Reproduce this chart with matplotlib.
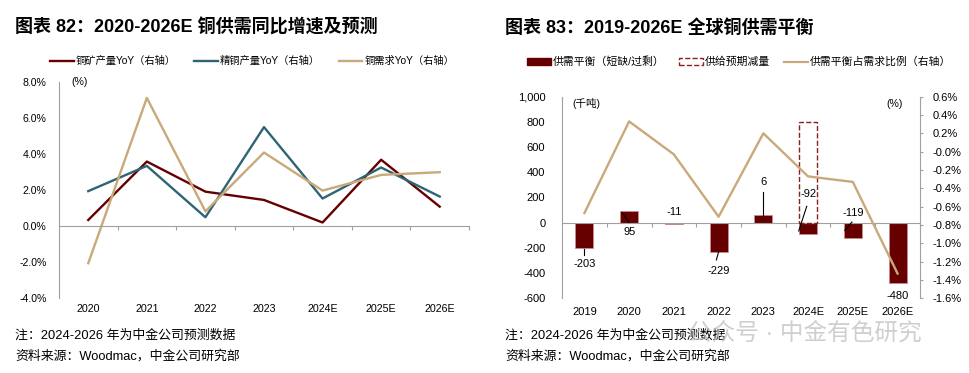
import numpy as np
import matplotlib.pyplot as plt
from matplotlib.lines import Line2D
from matplotlib.patches import Patch
from matplotlib.ticker import FuncFormatter

plt.rcParams['font.family'] = ['Liberation Sans', 'Noto Sans CJK SC']
plt.rcParams['axes.unicode_minus'] = False

# 图表82 数据 (%)
years_l = ['2020', '2021', '2022', '2023', '2024E', '2025E', '2026E']
mine_yoy = [0.33, 3.57, 1.90, 1.44, 0.19, 3.67, 1.07]
refined_yoy = [1.93, 3.33, 0.48, 5.48, 1.52, 3.24, 1.63]
demand_yoy = [-2.07, 7.10, 0.81, 4.07, 1.96, 2.83, 2.98]

# 图表83 数据
years_r = ['2019', '2020', '2021', '2022', '2023', '2024E', '2025E', '2026E']
balance = [-203, 95, -11, -229, 60, -92, -119, -480]          # 千吨
balance_txt = ['-203', '95', '-11', '-229', '6', '-92', '-119', '-480']
supply_cut_year = '2024E'
supply_cut = 800                                               # 千吨
balance_ratio = [-0.67, 0.33, -0.03, -0.71, 0.20, -0.27, -0.33, -1.33]  # %

RED = '#660000'
TEAL = '#2E6474'
TAN = '#C9A97A'
GRAY = '#a0a0a0'

fig = plt.figure(figsize=(9.7, 3.73), dpi=100)

# ---------- 左图 ----------
ax1 = fig.add_axes([0.0608, 0.201, 0.4227, 0.580])
x1 = np.arange(len(years_l))
ax1.plot(x1, mine_yoy, color=RED, lw=1.7, label='铜矿产量YoY（右轴）')
ax1.plot(x1, refined_yoy, color=TEAL, lw=1.7, label='精铜产量YoY（右轴）')
ax1.plot(x1, demand_yoy, color=TAN, lw=1.7, label='铜需求YoY（右轴）')
ax1.set_xlim(-0.5, len(years_l) - 0.5)
ax1.set_ylim(-4, 8)
ax1.set_yticks(np.arange(-4, 8.1, 2))
ax1.yaxis.set_major_formatter(FuncFormatter(lambda v, p: f'{v:.1f}%'))
ax1.tick_params(axis='y', length=0, pad=9, labelsize=7.6)
for s in ['top', 'right']:
    ax1.spines[s].set_visible(False)
ax1.spines['left'].set_color(GRAY)
ax1.spines['bottom'].set_color(GRAY)
ax1.spines['bottom'].set_position(('data', 0))
ax1.set_xticks(x1 + 0.5)
ax1.set_xticklabels([])
ax1.tick_params(axis='x', direction='out', length=3, color=GRAY)
for i, y in enumerate(years_l):
    ax1.text(i, -0.053, y, transform=ax1.get_xaxis_transform(), ha='center', va='center', fontsize=7.7)
ax1.text(0.03, 1.0, '(%)', transform=ax1.transAxes, ha='left', va='center', fontsize=7.6)
fig.legend(handles=ax1.get_lines(), loc='center', bbox_to_anchor=(0.26, 0.836), ncol=3,
           frameon=False, fontsize=7.4, handlelength=2.3, handletextpad=0.2, columnspacing=1.8)

# ---------- 右图 ----------
ax2 = fig.add_axes([0.5794, 0.2003, 0.369, 0.5405])
x2 = np.arange(len(years_r))
ax2.bar(x2, balance, width=0.4, color=RED, edgecolor='#c98a8a', linewidth=0.6, zorder=2)
ci = years_r.index(supply_cut_year)
ax2.bar(x2[ci], supply_cut, width=0.4, fill=False, edgecolor='#8B2020', linestyle='--',
        linewidth=1.0, zorder=3)
ax2.set_xlim(-0.5, len(years_r) - 0.5)
ax2.set_ylim(-600, 1000)
ax2.set_yticks(np.arange(-600, 1001, 200))
ax2.yaxis.set_major_formatter(FuncFormatter(lambda v, p: f'{v:,.0f}'))
ax2.tick_params(axis='y', length=0, pad=12, labelsize=8)
for s in ['top', 'right']:
    ax2.spines[s].set_visible(False)
ax2.spines['left'].set_color(GRAY)
ax2.spines['bottom'].set_color(GRAY)
ax2.spines['bottom'].set_position(('data', 0))
ax2.set_xticks(x2 + 0.5)
ax2.set_xticklabels([])
ax2.tick_params(axis='x', direction='out', length=3, color=GRAY)
for i, y in enumerate(years_r):
    ax2.text(i, -0.07, y, transform=ax2.get_xaxis_transform(), ha='center', va='center', fontsize=8)
ax2.text(0.03, 0.965, '(千吨)', transform=ax2.transAxes, ha='left', va='center', fontsize=7.6)

# 数据标签: (文字位置x, y, 引线起点, 引线终点)
label_pos = [(0, -331, (0, -205), (0, -258)),
             (1, -77, (0.84, 79), (1.0, 2)),
             (2, 82, None, None),
             (3, -381, (3.0, -231), (2.95, -296)),
             (4, 320, (4, 61), (4, 246)),
             (5, 225, (4.79, -66), (4.97, 130)),
             (6, 80, (5.82, -60), (5.98, 5)),
             (7, -584, None, None)]
for txt, (tx, ty, p0, p1) in zip(balance_txt, label_pos):
    ax2.text(tx, ty, txt, ha='center', va='center', fontsize=8, zorder=5)
    if p0 is not None:
        ax2.plot([p0[0], p1[0]], [p0[1], p1[1]], color='black', lw=0.8, zorder=4)

ax3 = ax2.twinx()
ax3.plot(x2, balance_ratio, color=TAN, lw=1.7)
ax3.set_ylim(-1.6, 0.6)
ax3.set_yticks(np.arange(-1.6, 0.61, 0.2))
ax3.yaxis.set_major_formatter(FuncFormatter(lambda v, p: f'{v:.1f}%'))
ax3.tick_params(axis='y', length=2, pad=7, labelsize=8, color=GRAY)
for s in ['top', 'left', 'bottom']:
    ax3.spines[s].set_visible(False)
ax3.spines['right'].set_color(GRAY)
ax3.text(0.93, 0.965, '(%)', transform=ax3.transAxes, ha='center', va='center', fontsize=7.6)

handles = [Patch(facecolor=RED, edgecolor=RED),
           Patch(fill=False, edgecolor='#8B2020', linestyle='--'),
           Line2D([], [], color=TAN, lw=1.6)]
labels = ['供需平衡（短缺/过剩）', '供给预期减量', '供需平衡占需求比例（右轴）']
fig.legend(handles, labels, loc='center', bbox_to_anchor=(0.762, 0.834), ncol=3, frameon=False,
           fontsize=7.8, handlelength=2.2, handleheight=0.6, handletextpad=0.2, columnspacing=1.3)

# ---------- 标题与注释 ----------
fig.text(0.0155, 0.925, '图表 82：2020-2026E 铜供需同比增速及预测', fontsize=13, fontweight='bold',
         ha='left', va='center')
fig.text(0.521, 0.925, '图表 83：2019-2026E 全球铜供需平衡', fontsize=13, fontweight='bold',
         ha='left', va='center')
for xf in [0.0155, 0.521]:
    fig.text(xf, 0.101, '注：2024-2026 年为中金公司预测数据', fontsize=9.3, ha='left', va='center')
    fig.text(xf, 0.045, '资料来源：Woodmac，中金公司研究部', fontsize=9.3, ha='left', va='center')
# 公众号水印（参考图中与注释重叠）
fig.text(0.709, 0.107, '公众号 · 中金有色研究', fontsize=17, color='#c0c0c0', alpha=0.75,
         ha='left', va='center')

fig.savefig('out.png', dpi=100)
